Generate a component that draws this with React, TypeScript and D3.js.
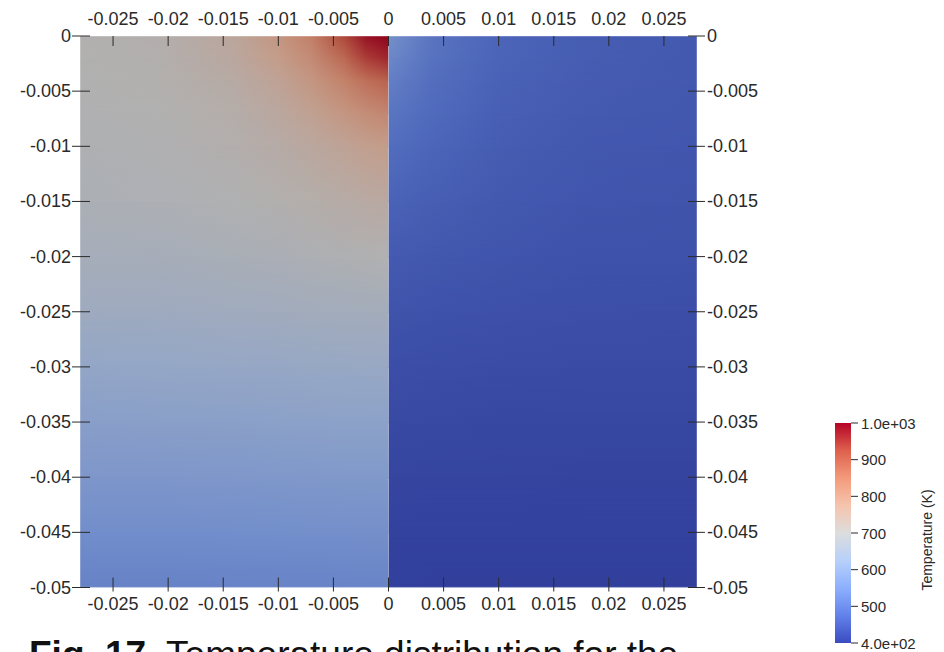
import React from 'react';
import * as d3 from 'd3';

// axis ticks
const xTicks = [-0.025, -0.02, -0.015, -0.01, -0.005, 0, 0.005, 0.01, 0.015, 0.02, 0.025];
const xTickLabels = ['-0.025', '-0.02', '-0.015', '-0.01', '-0.005', '0', '0.005', '0.01', '0.015', '0.02', '0.025'];
const yTicks = [0, -0.005, -0.01, -0.015, -0.02, -0.025, -0.03, -0.035, -0.04, -0.045, -0.05];
const yTickLabels = ['0', '-0.005', '-0.01', '-0.015', '-0.02', '-0.025', '-0.03', '-0.035', '-0.04', '-0.045', '-0.05'];

// colour bar
const cbTicks = [400, 500, 600, 700, 800, 900, 1000];
const cbTickLabels = ['4.0e+02', '500', '600', '700', '800', '900', '1.0e+03'];
const cmapValues = [400, 475, 550, 625, 700, 775, 850, 925, 1000];
const cmapColors = ['#3b4cc0', '#6282ea', '#8db0fe', '#b8d0f9', '#dddddd', '#f5c4ad', '#f49a7b', '#de604d', '#b40426'];

// sample rows (y) shared by both halves
const rowY = [0, -0.002, -0.004, -0.007, -0.01, -0.015, -0.02, -0.025, -0.03, -0.035, -0.04, -0.045, -0.05];

// left block (x < 0), temperature in K
const leftX = [-0.028, -0.021, -0.014, -0.01, -0.007, -0.004, -0.002, 0];
const leftT = [
  [702, 710, 740, 790, 840, 930, 985, 1000],
  [701, 707, 735, 775, 815, 880, 940, 965],
  [700, 704, 725, 755, 790, 835, 870, 890],
  [697, 700, 715, 735, 760, 790, 810, 825],
  [694, 697, 708, 720, 735, 752, 765, 775],
  [686, 689, 698, 705, 712, 720, 727, 732],
  [671, 674, 680, 685, 690, 694, 697, 699],
  [651, 653, 657, 660, 663, 665, 666, 667],
  [626, 628, 631, 633, 635, 636, 637, 637],
  [602, 604, 606, 608, 609, 610, 610, 610],
  [578, 579, 581, 582, 583, 584, 584, 584],
  [553, 554, 555, 556, 557, 557, 558, 558],
  [528, 529, 530, 531, 531, 532, 532, 532],
];

// right block (x > 0)
const rightX = [0, 0.004, 0.01, 0.018, 0.028];
const rightT = [
  [560, 500, 470, 456, 450],
  [540, 495, 468, 455, 449],
  [522, 488, 465, 453, 448],
  [502, 478, 460, 450, 446],
  [486, 470, 455, 447, 444],
  [466, 458, 448, 442, 440],
  [451, 447, 441, 437, 436],
  [440, 437, 434, 432, 431],
  [430, 428, 426, 425, 425],
  [422, 421, 420, 419, 419],
  [415, 414, 414, 413, 413],
  [410, 409, 409, 409, 409],
  [407, 406, 406, 406, 406],
];

const W = 944;
const H = 652;
const SHADE = 0.8;
const FONT = '"Liberation Sans", Arial, sans-serif';
const INK = '#2a2a2a';

const x = d3.scaleLinear().domain([-0.028, 0.028]).range([80, 697]);
const y = d3.scaleLinear().domain([0, -0.05]).range([36, 587.5]);
const cb = d3.scaleLinear().domain([400, 1000]).range([643, 423]);
const cmap = d3.scaleLinear<string>().domain(cmapValues).range(cmapColors).interpolate(d3.interpolateRgb);

// lit surface is a bit darker than the colour bar
const surface = (t: number) => {
  const c = d3.rgb(cmap(t));
  return d3.rgb(c.r * SHADE, c.g * SHADE, c.b * SHADE).formatHex();
};

const Block = ({ id, xs, rows }: { id: string; xs: number[]; rows: number[][] }) => {
  const x0 = x(xs[0]);
  const x1 = x(xs[xs.length - 1]);
  return (
    <g>
      <defs>
        {rows.map((row, j) => (
          <linearGradient key={j} id={`${id}-g${j}`} gradientUnits="userSpaceOnUse" x1={x0} x2={x1} y1={0} y2={0}>
            {row.map((t, i) => (
              <stop key={i} offset={(x(xs[i]) - x0) / (x1 - x0)} stopColor={surface(t)} />
            ))}
          </linearGradient>
        ))}
      </defs>
      {rowY.slice(0, -1).map((v, j) => {
        const top = y(v);
        const h = y(rowY[j + 1]) - top + (j < rowY.length - 2 ? 0.8 : 0);
        return (
          <g key={j}>
            <rect x={x0} y={top} width={x1 - x0} height={h} fill={`url(#${id}-g${j})`} />
            <rect x={x0} y={top} width={x1 - x0} height={h} fill={`url(#${id}-g${j + 1})`} mask="url(#ramp)" />
          </g>
        );
      })}
    </g>
  );
};

const App = () => {
  const left = x.range()[0];
  const right = x.range()[1];
  const top = y.range()[0];
  const bottom = y.range()[1];
  return (
    <svg width={W} height={H} style={{ position: 'absolute', left: 0, top: 0, background: '#fff' }} fontFamily={FONT}>
      <defs>
        <linearGradient id="rampGrad" x1="0" y1="0" x2="0" y2="1">
          <stop offset="0" stopColor="#000" />
          <stop offset="1" stopColor="#fff" />
        </linearGradient>
        <mask id="ramp" maskContentUnits="objectBoundingBox">
          <rect x="0" y="0" width="1" height="1" fill="url(#rampGrad)" />
        </mask>
        <linearGradient id="cbGrad" gradientUnits="userSpaceOnUse" x1="0" x2="0" y1={cb(400)} y2={cb(1000)}>
          {cmapValues.map((v, i) => (
            <stop key={v} offset={(v - 400) / 600} stopColor={cmapColors[i]} />
          ))}
        </linearGradient>
      </defs>

      <Block id="lb" xs={leftX} rows={leftT} />
      <Block id="rb" xs={rightX} rows={rightT} />

      {/* block edges */}
      <rect x={left} y={top} width={right - left} height={bottom - top} fill="none" stroke="rgba(255,255,255,0.35)" strokeWidth={1.2} />
      <line x1={x(0)} x2={x(0)} y1={top} y2={bottom} stroke="rgba(255,255,255,0.3)" strokeWidth={1} />

      {/* top / bottom axes */}
      {xTicks.map((v, i) => (
        <g key={`x${i}`} stroke={INK} strokeWidth={1}>
          <line x1={x(v)} x2={x(v)} y1={top} y2={top + 10} />
          <line x1={x(v)} x2={x(v)} y1={bottom - 10} y2={bottom + 4} />
        </g>
      ))}
      {xTicks.map((v, i) => (
        <g key={`xl${i}`} fill={INK} fontSize={18} textAnchor="middle">
          <text x={x(v)} y={25}>{xTickLabels[i]}</text>
          <text x={x(v)} y={610}>{xTickLabels[i]}</text>
        </g>
      ))}

      {/* left / right axes */}
      {yTicks.map((v, i) => (
        <g key={`y${i}`} stroke={INK} strokeWidth={1}>
          <line x1={left - 8} x2={left + 10} y1={y(v)} y2={y(v)} />
          <line x1={right - 9} x2={right + 8} y1={y(v)} y2={y(v)} />
        </g>
      ))}
      {yTicks.map((v, i) => (
        <g key={`yl${i}`} fill={INK} fontSize={18} dominantBaseline="central">
          <text x={71} y={y(v)} textAnchor="end">{yTickLabels[i]}</text>
          <text x={707} y={y(v)}>{yTickLabels[i]}</text>
        </g>
      ))}

      {/* colour bar */}
      <rect x={835} y={cb(1000)} width={16} height={cb(400) - cb(1000)} fill="url(#cbGrad)" />
      {cbTicks.map((v, i) => (
        <g key={`c${i}`}>
          <line x1={851} x2={858} y1={cb(v)} y2={cb(v)} stroke={INK} strokeWidth={1} />
          <text x={861} y={cb(v)} fontSize={15} fill={INK} dominantBaseline="central">{cbTickLabels[i]}</text>
        </g>
      ))}
      <text transform="translate(927,540) rotate(-90)" fontSize={14} fill={INK} textAnchor="middle" dominantBaseline="central">
        Temperature (K)
      </text>

      {/* figure caption, cut off by the frame */}
      <text x={29} y={666.5} fontSize={37} fill="#111">
        <tspan fontWeight="bold">Fig. 17.</tspan> Temperature distribution for the
      </text>
    </svg>
  );
};

export default App;
